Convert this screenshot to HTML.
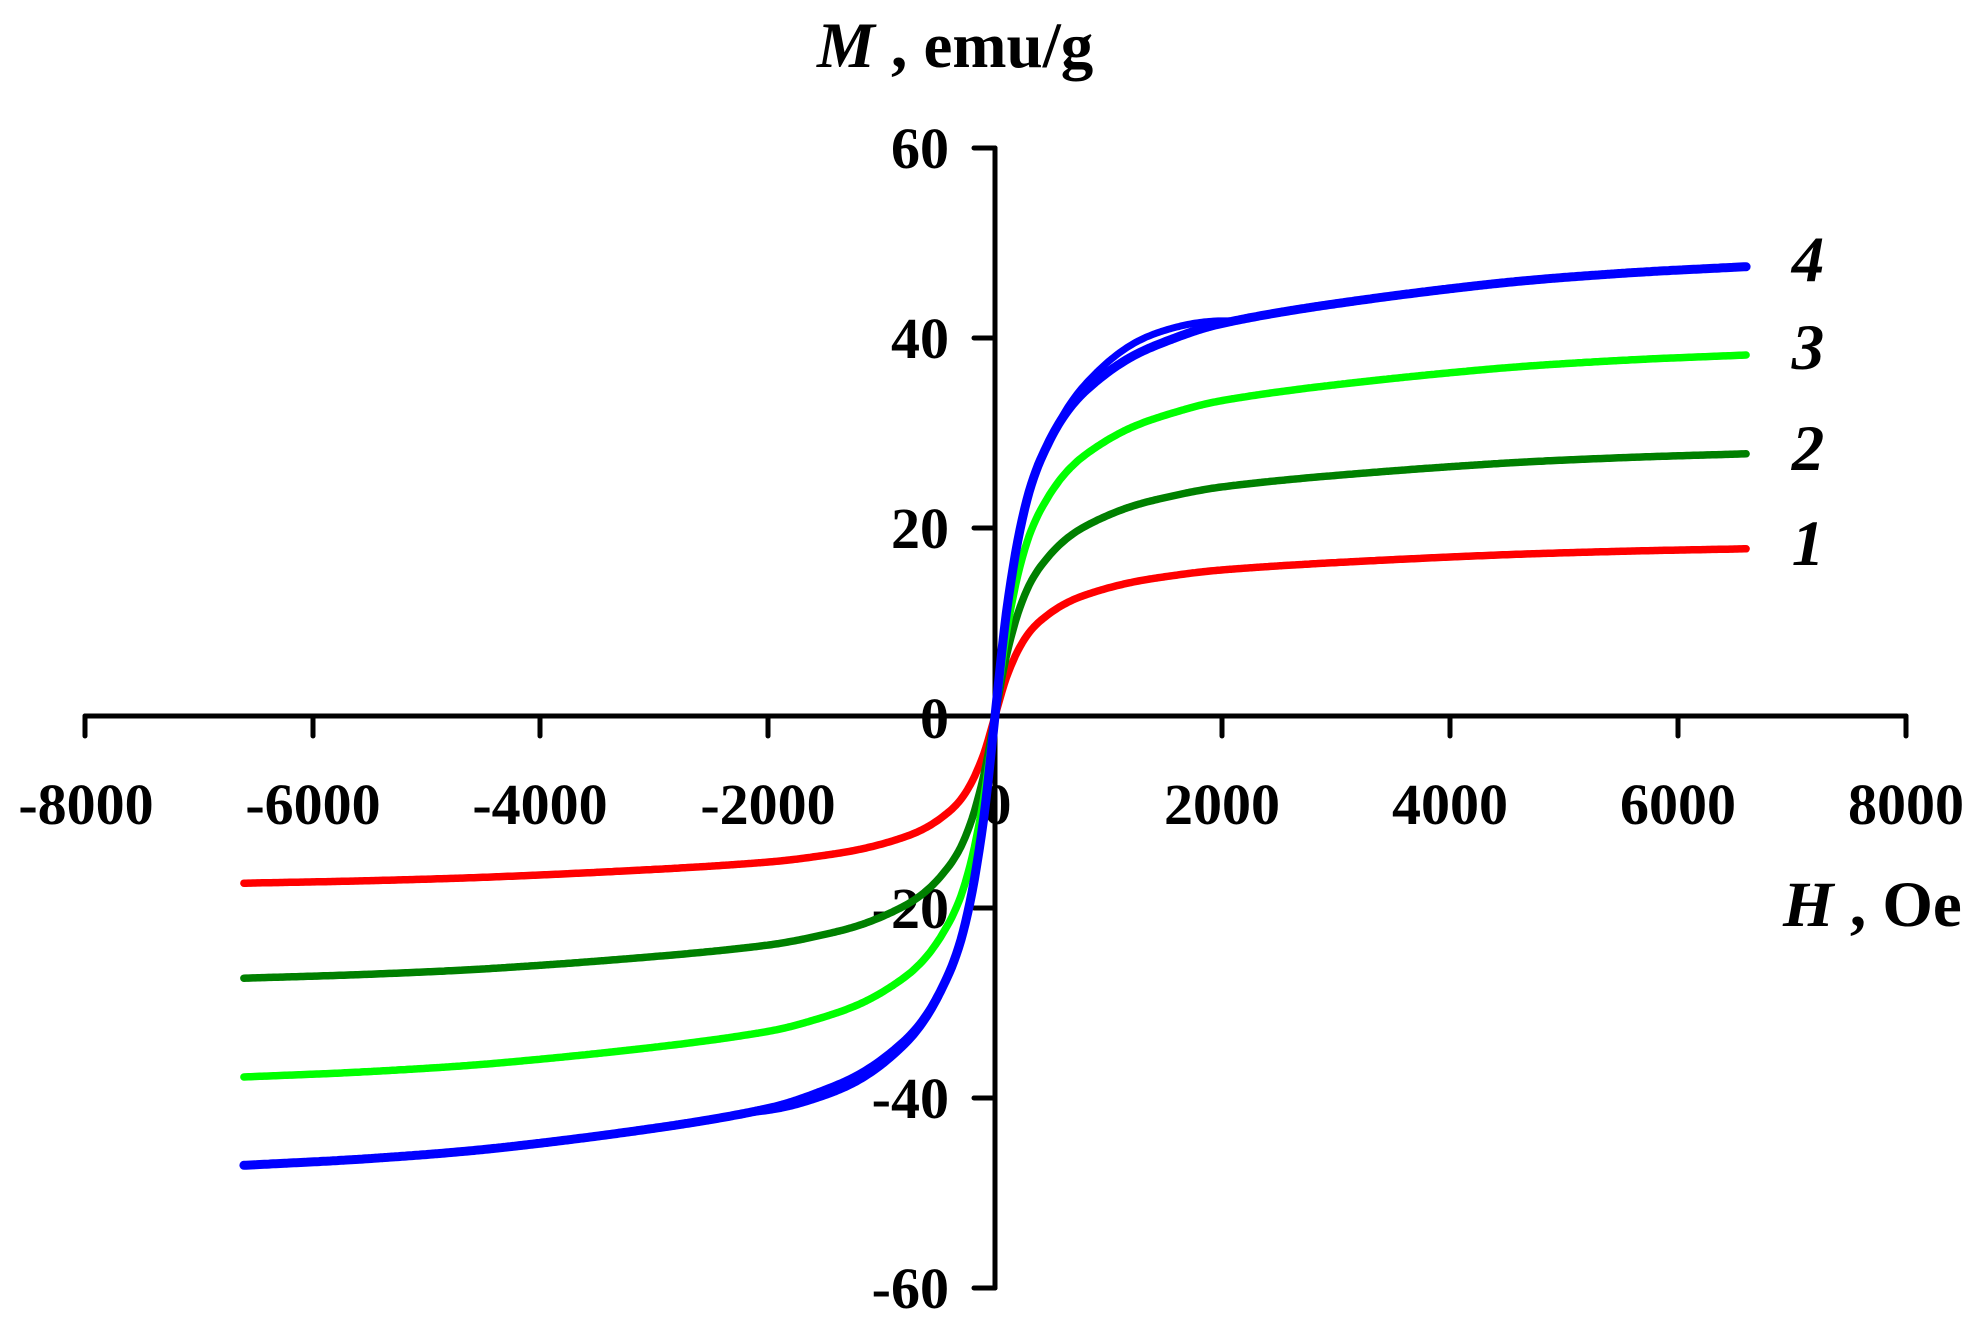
<!DOCTYPE html>
<html><head><meta charset="utf-8"><style>
html,body{margin:0;padding:0;background:#fff;}
svg{display:block;}
text{font-family:"Liberation Serif",serif;font-weight:bold;fill:#000;}
</style></head><body>
<svg id="s" width="1983" height="1329" xmlns="http://www.w3.org/2000/svg">
<g stroke="#000" stroke-width="5" stroke-linecap="round" fill="none">
<line x1="995" y1="148" x2="995" y2="1288"/>
<line x1="85" y1="716" x2="1906" y2="716"/>
<line x1="974" y1="148" x2="995" y2="148"/>
<line x1="974" y1="338" x2="995" y2="338"/>
<line x1="974" y1="528" x2="995" y2="528"/>
<line x1="974" y1="908" x2="995" y2="908"/>
<line x1="974" y1="1098" x2="995" y2="1098"/>
<line x1="974" y1="1288" x2="995" y2="1288"/>
<line x1="85" y1="716" x2="85" y2="736"/>
<line x1="313" y1="716" x2="313" y2="736"/>
<line x1="540" y1="716" x2="540" y2="736"/>
<line x1="768" y1="716" x2="768" y2="736"/>
<line x1="1222" y1="716" x2="1222" y2="736"/>
<line x1="1450" y1="716" x2="1450" y2="736"/>
<line x1="1678" y1="716" x2="1678" y2="736"/>
<line x1="1906" y1="716" x2="1906" y2="736"/>
</g>
<g font-size="58" text-anchor="end">
<text x="949" y="168">60</text>
<text x="949" y="358">40</text>
<text x="949" y="548">20</text>
<text x="949" y="738">0</text>
<text x="949" y="928">-20</text>
<text x="949" y="1118">-40</text>
<text x="949" y="1308">-60</text>
</g>
<g font-size="58" text-anchor="middle">
<text x="86" y="824">-8000</text>
<text x="313" y="824">-6000</text>
<text x="540" y="824">-4000</text>
<text x="768" y="824">-2000</text>
<text x="997" y="824">0</text>
<text x="1222" y="824">2000</text>
<text x="1450" y="824">4000</text>
<text x="1678" y="824">6000</text>
<text x="1906" y="824">8000</text>
</g>
<text x="817" y="67" font-size="65"><tspan font-style="italic">M</tspan> , emu/g</text>
<text x="1783" y="926" font-size="65"><tspan font-style="italic">H</tspan> , Oe</text>
<g font-size="65" font-style="italic" text-anchor="middle">
<text x="1808" y="281">4</text>
<text x="1808" y="369">3</text>
<text x="1808" y="470">2</text>
<text x="1808" y="565">1</text>
</g>
<g id="curves" fill="none" stroke-linecap="round" stroke-linejoin="round"></g>
</svg>
<script>
var T=[[0,0],[50,0.12],[100,0.23],[150,0.315],[200,0.39],[290,0.49],[400,0.57],[585,0.66],[800,0.725],[1170,0.795],[1600,0.843],[2000,0.874],[2926,0.915],[4390,0.962],[5500,0.985],[6600,1]];
function f(h){var s=h<0?-1:1;h=Math.abs(h);for(var i=1;i<T.length;i++){if(h<=T[i][0]){var a=T[i-1],b=T[i];var t=(h-a[0])/(b[0]-a[0]);
var p0=T[Math.max(i-2,0)],p3=T[Math.min(i+1,T.length-1)];
var m1=(b[1]-p0[1])/(b[0]-p0[0])*(b[0]-a[0]),m2=(p3[1]-a[1])/(p3[0]-a[0])*(b[0]-a[0]);
var t2=t*t,t3=t2*t;var v=(2*t3-3*t2+1)*a[1]+(t3-2*t2+t)*m1+(-2*t3+3*t2)*b[1]+(t3-t2)*m2;return s*v;}}return s;}
function X(h){return 995+h*0.11381;}function Y(m){return 716-m*9.5;}
var C=[["#ff0000",17.6,7.5,0],["#008000",27.6,7.5,0],["#00ff00",38,7.5,0],["#0000ff",47.3,9,1]];
var g=document.getElementById("curves"),ns="http://www.w3.org/2000/svg";
C.forEach(function(c){
 var d="";for(var h=-6600;h<=6600;h+=20){d+=(d?"L":"M")+X(h).toFixed(1)+","+Y(c[1]*f(h)).toFixed(1);}
 var p=document.createElementNS(ns,"path");p.setAttribute("d",d);p.setAttribute("stroke",c[0]);p.setAttribute("stroke-width",c[2]);g.appendChild(p);
 if(c[3]){var d2="";for(var h2=500;h2<=2100;h2+=20){var b=Math.sin(Math.PI*(h2-500)/1600)*1.3;d2+=(d2?"L":"M")+X(h2).toFixed(1)+","+Y(c[1]*f(h2)+b).toFixed(1);}
 var q=document.createElementNS(ns,"path");q.setAttribute("d",d2);q.setAttribute("stroke",c[0]);q.setAttribute("stroke-width",7);g.appendChild(q);
 var d3="";for(var h3=-2100;h3<=-500;h3+=20){var b3=Math.sin(Math.PI*(-h3-500)/1600)*0.5;d3+=(d3?"L":"M")+X(h3).toFixed(1)+","+Y(c[1]*f(h3)-b3).toFixed(1);}
 var q3=document.createElementNS(ns,"path");q3.setAttribute("d",d3);q3.setAttribute("stroke",c[0]);q3.setAttribute("stroke-width",9);g.appendChild(q3);}
});
</script>
</body></html>
